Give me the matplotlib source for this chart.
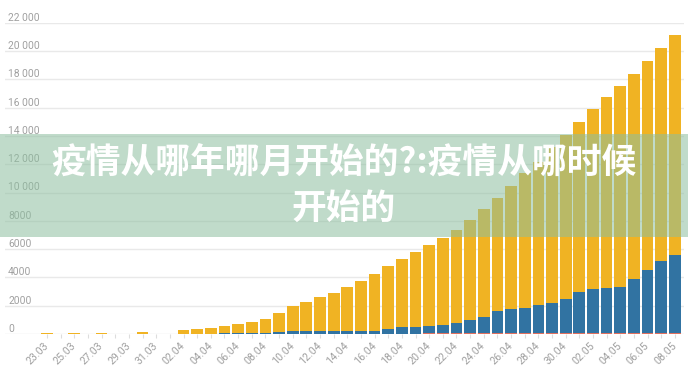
import matplotlib
matplotlib.use("Agg")
import matplotlib.pyplot as plt
from matplotlib.patches import Rectangle
import numpy as np

dates = ["23.03", "24.03", "25.03", "26.03", "27.03", "28.03", "29.03", "30.03", "31.03",
         "01.04", "02.04", "03.04", "04.04", "05.04", "06.04", "07.04", "08.04", "09.04",
         "10.04", "11.04", "12.04", "13.04", "14.04", "15.04", "16.04", "17.04", "18.04",
         "19.04", "20.04", "21.04", "22.04", "23.04", "24.04", "25.04", "26.04", "27.04",
         "28.04", "29.04", "30.04", "01.05", "02.05", "03.05", "04.05", "05.05", "06.05",
         "07.05", "08.05"]

totals = [90, 0, 90, 0, 90, 0, 0, 170, 0,
          0, 300, 350, 450, 580, 710, 880, 1070, 1510,
          1980, 2250, 2590, 2930, 3290, 3750, 4240, 4810, 5300,
          5810, 6290, 6770, 7350, 8060, 8820, 9640, 10490, 11360,
          12180, 13200, 14070, 14950, 15890, 16760, 17530, 18400, 19300,
          20220, 21160]

red = [0, 0, 0, 0, 0, 0, 0, 0, 0,
       0, 0, 0, 0, 0, 0, 0, 0, 20,
       20, 20, 25, 25, 30, 30, 30, 35, 35,
       35, 40, 40, 40, 45, 45, 45, 50, 50,
       50, 55, 55, 55, 60, 60, 60, 60, 65,
       65, 65]

blue = [0, 0, 0, 0, 0, 0, 0, 0, 0,
        0, 0, 0, 20, 40, 60, 70, 90, 140,
        180, 190, 195, 200, 205, 210, 210, 320, 460,
        485, 525, 595, 760, 945, 1135, 1585, 1720, 1765,
        1995, 2115, 2420, 2935, 3120, 3220, 3290, 3830, 4435,
        5120, 5545]

ytick_values = [0, 2000, 4000, 6000, 8000, 10000, 12000, 14000, 16000, 18000, 20000, 22000]
ytick_labels = ["0", "2000", "4000", "6000", "8000", "10 000", "12 000", "14 000",
                "16 000", "18 000", "20 000", "22 000"]

title_line1 = "疫情从哪年哪月开始的?:疫情从哪时候"
title_line2 = "开始的"

red_a = np.array(red, dtype=float)
blue_a = np.array(blue, dtype=float)
yellow_a = np.array(totals, dtype=float) - red_a - blue_a
x = np.arange(len(dates))

W, H = 688, 372
fig = plt.figure(figsize=(W / 100, H / 100), dpi=100)
ax = fig.add_axes([5 / W, (H - 334) / H, 679 / W, (334 - 22.7) / H])

bw = 0.86
ax.bar(x, red_a, width=bw, color="#e0705f", zorder=3)
ax.bar(x, blue_a, width=bw, bottom=red_a, color="#3173a2", zorder=3)
ax.bar(x, yellow_a, width=bw, bottom=red_a + blue_a, color="#f0b323", zorder=3)

ax.set_xlim(-3.08, 46.67)
ax.set_ylim(0, 22000)
for s in ax.spines.values():
    s.set_visible(False)

ax.set_yticks(ytick_values)
ax.set_yticklabels(ytick_labels)
ax.yaxis.grid(True, color="#e9e9e9", linewidth=1.0)
ax.set_axisbelow(True)
ax.tick_params(axis="y", length=0, pad=-2.2, labelsize=7.4, labelcolor="#a0a0a0")
for lbl in ax.get_yticklabels():
    lbl.set_horizontalalignment("left")
    lbl.set_verticalalignment("bottom")
    lbl.set_fontfamily("Roboto")

major = list(range(0, len(dates), 2))
ax.set_xticks(major)
ax.set_xticklabels([dates[i] for i in major], rotation=45, ha="right", va="center",
                   rotation_mode="anchor", fontsize=7.7, color="#a0a0a0", family="Roboto")
ax.set_xticks(x, minor=True)
ax.tick_params(axis="x", which="both", length=3, color="#dddddd", width=0.8)
ax.tick_params(axis="x", which="major", pad=4)

banner = Rectangle((0, (H - 237) / H), 1, (237 - 134) / H, transform=fig.transFigure,
                   facecolor="#8dbf9f", alpha=0.55, edgecolor="none", zorder=5)
fig.patches.append(banner)

fam = ["Noto Sans CJK SC", "DejaVu Sans"]
fig.text(0.5, (H - 163) / H, title_line1, ha="center", va="center", fontsize=25,
         color="white", weight="heavy", family=fam, zorder=6)
fig.text(0.5, (H - 208) / H, title_line2, ha="center", va="center", fontsize=25,
         color="white", weight="heavy", family=fam, zorder=6)

fig.savefig("out.png", dpi=100)
